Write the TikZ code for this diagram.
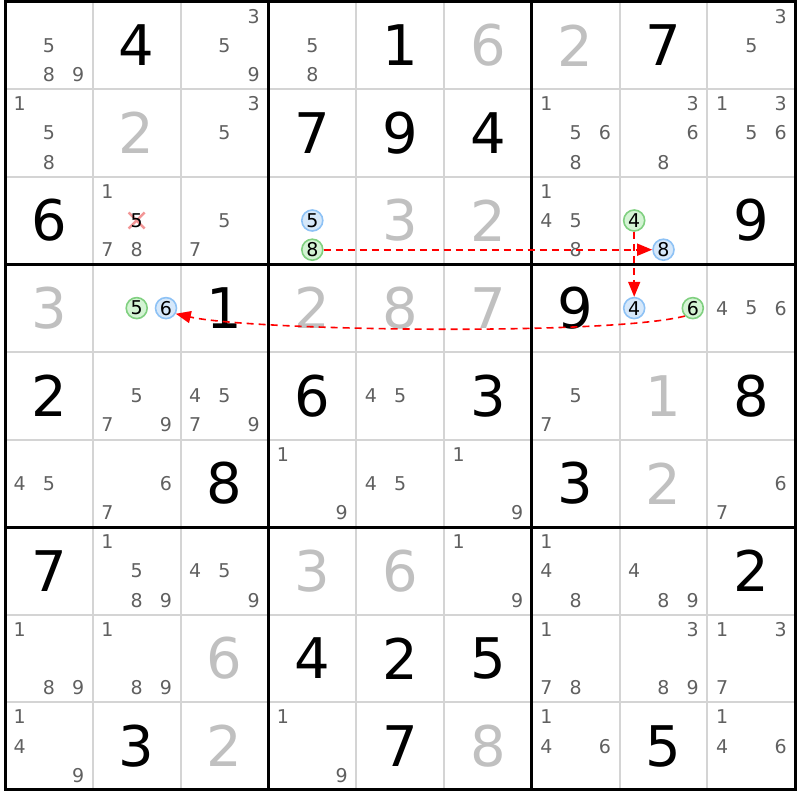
\documentclass[tikz,border=0pt]{standalone}
\usepackage{fontspec}
\setmainfont{DejaVu Sans}
\usepackage{xcolor}
\usetikzlibrary{arrows.meta}
\definecolor{candgray}{RGB}{96,96,96}
\definecolor{solvgray}{RGB}{192,192,192}
\definecolor{gridgray}{RGB}{212,212,212}
\definecolor{ringblue}{RGB}{142,194,245}
\definecolor{fillblue}{RGB}{214,232,250}
\definecolor{ringgreen}{RGB}{128,208,128}
\definecolor{fillgreen}{RGB}{212,244,212}
\definecolor{crosspink}{RGB}{242,150,150}

\begin{document}
\begin{tikzpicture}[x=1pt,y=-1pt]
\tikzstyle{every node}+=[inner sep=0pt]
\tikzstyle{given}=[font=\fontsize{56}{60}\selectfont,text=black]
\tikzstyle{solved}=[font=\fontsize{56}{60}\selectfont,text=solvgray]
\tikzstyle{cand}=[font=\fontsize{19}{21}\selectfont,text=candgray]
\tikzstyle{ringb}=[cand,text=black,circle,draw=ringblue,fill=fillblue,line width=1.6pt,minimum size=21pt]
\tikzstyle{ringg}=[cand,text=black,circle,draw=ringgreen,fill=fillgreen,line width=1.6pt,minimum size=21pt]
\tikzstyle{thinline}=[gridgray,line width=2pt]
\tikzstyle{thickline}=[black,line width=3pt]
\tikzstyle{crossline}=[crosspink,line width=2.5pt]
\tikzstyle{link}=[red,dash pattern=on 7pt off 5pt,line width=1.6pt,-{Triangle[length=15pt,width=12pt]}]
\useasboundingbox (0,0) rectangle (800,800);
\foreach \i in {1,2,4,5,7,8} {
  \draw [thinline] ({5+87.8*\i},1.5) -- ({5+87.8*\i},789.9);
  \draw [thinline] (5,{1.5+87.6*\i}) -- (795.2,{1.5+87.6*\i});
}
\foreach \i in {3,6} {
  \draw [thickline] ({5+87.8*\i},1.5) -- ({5+87.8*\i},789.9);
  \draw [thickline] (5,{1.5+87.6*\i}) -- (795.2,{1.5+87.6*\i});
}
\draw [thickline] (5,1.5) rectangle (795.2,789.9);
\foreach \r/\c/\d in {1/2/4,1/5/1,1/8/7,2/4/7,2/5/9,2/6/4,3/1/6,3/9/9,4/3/1,4/7/9,
  5/1/2,5/4/6,5/6/3,5/9/8,6/3/8,6/7/3,7/1/7,7/9/2,8/4/4,8/5/2,8/6/5,9/2/3,9/5/7,9/8/5}
  \node [given] (v\r\c) at ({5+87.8*(\c-0.5)},{1.5+87.6*(\r-0.5)}) {\d};
\foreach \r/\c/\d in {1/6/6,1/7/2,2/2/2,3/5/3,3/6/2,4/1/3,4/4/2,4/5/8,4/6/7,5/8/1,
  6/8/2,7/4/3,7/5/6,8/3/6,9/3/2,9/6/8}
  \node [solved] (v\r\c) at ({5+87.8*(\c-0.5)},{1.5+87.6*(\r-0.5)}) {\d};
\foreach \r/\c/\ds in {1/1/{5,8,9},1/3/{3,5,9},1/4/{5,8},1/9/{3,5},
  2/1/{1,5,8},2/3/{3,5},2/7/{1,5,6,8},2/8/{3,6,8},2/9/{1,3,5,6},
  3/2/{1,7,8},3/3/{5,7},3/7/{1,4,5,8},4/9/{4,5,6},
  5/2/{5,7,9},5/3/{4,5,7,9},5/5/{4,5},5/7/{5,7},
  6/1/{4,5},6/2/{6,7},6/4/{1,9},6/5/{4,5},6/6/{1,9},6/9/{6,7},
  7/2/{1,5,8,9},7/3/{4,5,9},7/6/{1,9},7/7/{1,4,8},7/8/{4,8,9},
  8/1/{1,8,9},8/2/{1,8,9},8/7/{1,7,8},8/8/{3,8,9},8/9/{1,3,7},
  9/1/{1,4,9},9/4/{1,9},9/7/{1,4,6},9/9/{1,4,6}}
  \foreach \d in \ds {
    \pgfmathtruncatemacro\kx{mod(\d-1,3)}
    \pgfmathtruncatemacro\ky{div(\d-1,3)}
    \node [cand] (k\r\c\d) at ({5+87.8*(\c-1)+29.27*(\kx+0.5)},{1.5+87.6*(\r-1)+29.2*(\ky+0.5)}) {\d};
  }
\coordinate (x325) at (136.7,220.5);
\draw [crossline] ([shift={(-8,-8)}]x325) -- ([shift={(8,8)}]x325);
\draw [crossline] ([shift={(-8,8)}]x325) -- ([shift={(8,-8)}]x325);
\node [cand,text=black] (k325) at (x325) {5};
\node [ringb] (b345) at (312.3,220.5) {5};
\node [ringg] (g348) at (312.3,249.7) {8};
\node [ringg] (g384) at (634.2,220.5) {4};
\node [ringb] (b388) at (663.5,249.7) {8};
\node [ringg] (g425) at (136.7,308.1) {5};
\node [ringb] (b426) at (166.0,308.1) {6};
\node [ringb] (b484) at (634.2,308.1) {4};
\node [ringg] (g486) at (692.8,308.1) {6};
\draw [link] (g348) -- (b388);
\draw [link] (g384) -- (b484);
\draw [link] (g486.225) .. controls +(-80,20) and +(75,17) .. (b426.-30);
\end{tikzpicture}
\end{document}
